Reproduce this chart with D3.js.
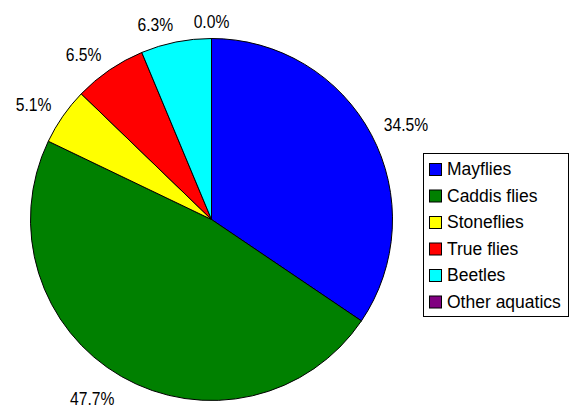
<!DOCTYPE html>
<html>
<head>
  <meta charset="utf-8">
  <title>pie</title>
  <script src="https://d3js.org/d3.v7.min.js"></script>
  <style>
    body { margin: 0; background: #fff; }
    text { font-family: "Liberation Sans", Arial, sans-serif; fill: #000; }
  </style>
</head>
<body>
<script>
  // chart data
  var categories = ["Mayflies", "Caddis flies", "Stoneflies", "True flies", "Beetles", "Other aquatics"];
  var percents = [34.5, 47.7, 5.1, 6.5, 6.3, 0.0];
  var colors = ["#0000ff", "#008000", "#ffff00", "#ff0000", "#00ffff", "#800080"];

  var width = 576, height = 410;
  var cx = 211.5, cy = 219.5, radius = 181;

  var svg = d3.select("body").append("svg")
      .attr("width", width)
      .attr("height", height);

  var data = categories.map(function(c, i) { return {name: c, value: percents[i], color: colors[i]}; });

  var pie = d3.pie().sort(null).value(function(d) { return d.value; });
  var arc = d3.arc().innerRadius(0).outerRadius(radius);

  var g = svg.append("g").attr("transform", "translate(" + cx + "," + cy + ")");

  var arcs = pie(data);

  g.selectAll("path")
      .data(arcs)
    .enter().append("path")
      .attr("d", arc)
      .attr("fill", function(d) { return d.data.color; })
      .attr("stroke", "#000")
      .attr("stroke-width", 1);

  // labels: the box corner nearest the pie sits on a point just outside it
  var labelR = radius + 14;
  var capH = 12.9;
  function mid(d) { return (d.startAngle + d.endAngle) / 2; }

  g.selectAll("text.lbl")
      .data(arcs)
    .enter().append("text")
      .attr("class", "lbl")
      .style("font-size", "18px")
      .attr("transform", function(d) {
        var a = mid(d);
        var x = labelR * Math.sin(a), y = -labelR * Math.cos(a) + 3;
        if (Math.cos(a) < 0) y += capH;
        return "translate(" + x + "," + y + ") scale(0.87,1)";
      })
      .attr("text-anchor", function(d) {
        var s = Math.sin(mid(d));
        if (Math.abs(s) < 0.03) return "middle";
        return s > 0 ? "start" : "end";
      })
      .text(function(d) { return d.data.value.toFixed(1) + "%"; });

  // legend
  var lx = 423, ly = 153, lw = 145, lh = 163, rowH = 26.5;
  var legend = svg.append("g");
  legend.append("rect")
      .attr("x", lx + 0.5).attr("y", ly + 0.5)
      .attr("width", lw).attr("height", lh)
      .attr("fill", "#fff").attr("stroke", "#000");

  var items = legend.selectAll("g.item")
      .data(data)
    .enter().append("g")
      .attr("class", "item")
      .attr("transform", function(d, i) { return "translate(" + lx + "," + (ly + 16 + i * rowH) + ")"; });

  items.append("rect")
      .attr("x", 6.5).attr("y", -5.5)
      .attr("width", 12).attr("height", 12)
      .attr("fill", function(d) { return d.color; })
      .attr("stroke", "#000");

  items.append("text")
      .attr("x", 24)
      .attr("y", 0)
      .attr("dy", "0.36em")
      .style("font-size", "17.5px")
      .text(function(d) { return d.name; });
</script>
</body>
</html>
